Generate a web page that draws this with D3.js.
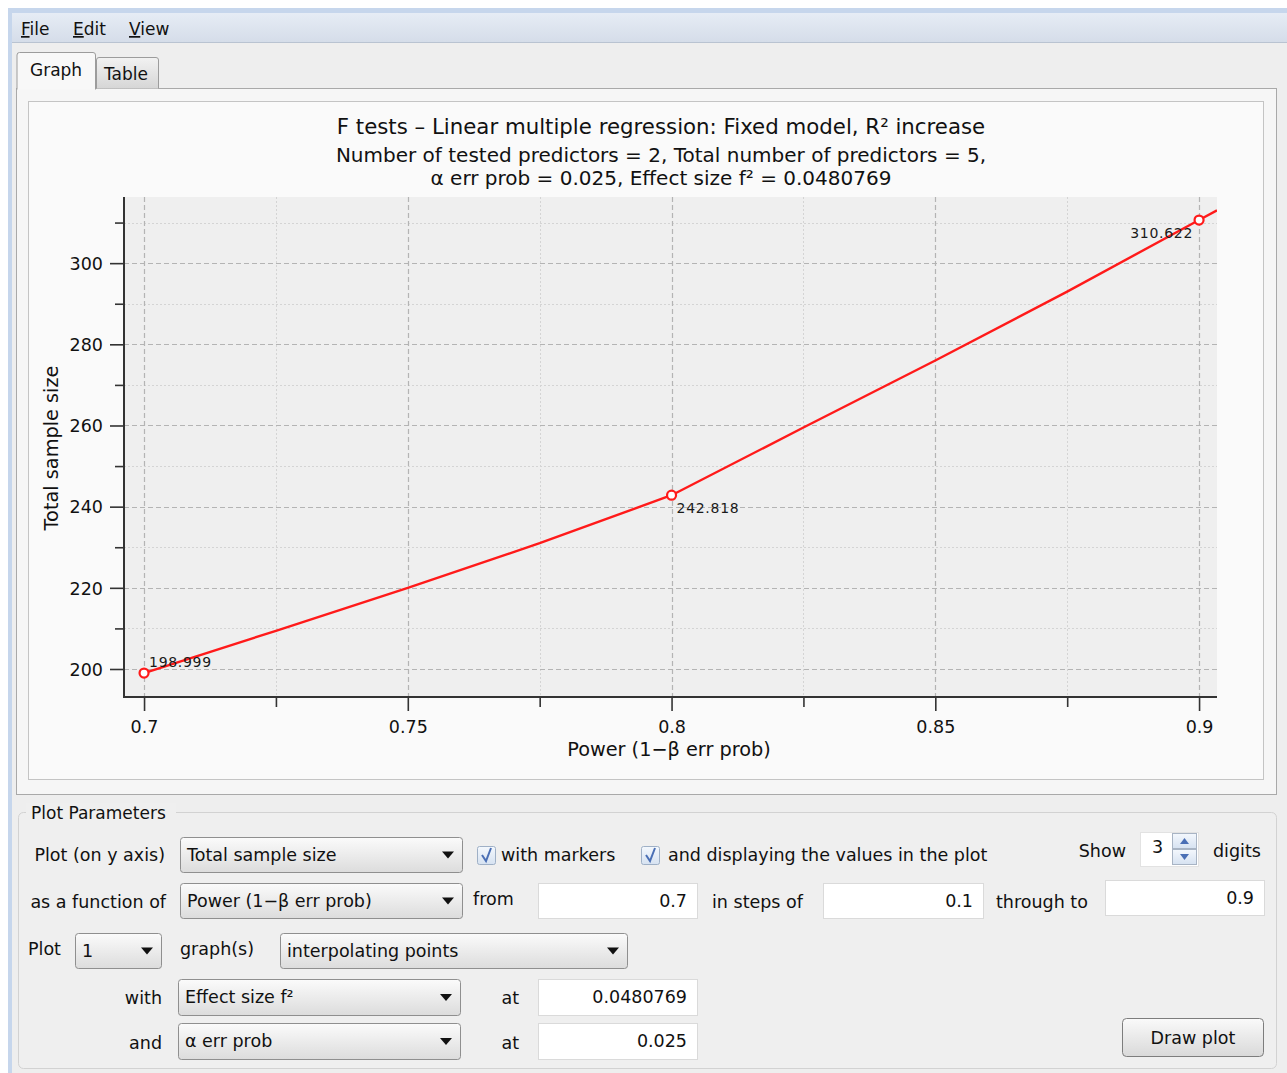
<!DOCTYPE html>
<html>
<head>
<meta charset="utf-8">
<script src="https://cdn.jsdelivr.net/npm/d3@7"></script>
<style>
  html, body { margin: 0; padding: 0; background: #ffffff; }
  svg { display: block; font-family: "DejaVu Sans", sans-serif; }
</style>
</head>
<body>
<div id="app"></div>
<script>
const titleLines = [
  'F tests \u2013 Linear multiple regression: Fixed model, R\u00b2 increase',
  'Number of tested predictors = 2, Total number of predictors = 5,',
  '\u03b1 err prob = 0.025, Effect size f\u00b2 = 0.0480769'
];
const xLabel = 'Power (1\u2212\u03b2 err prob)';
const yLabel = 'Total sample size';

const xTicks      = [0.7, 0.75, 0.8, 0.85, 0.9];
const xMinorTicks = [0.725, 0.775, 0.825, 0.875];
const yTicks      = [200, 220, 240, 260, 280, 300];
const yMinorTicks = [210, 230, 250, 270, 290, 310];

// interpolated curve
const curvePower = [0.7, 0.725, 0.75, 0.775, 0.8, 0.825, 0.85, 0.875, 0.9, 0.9034];
const curveN     = [198.999, 209.4, 220.0, 231.0, 242.818, 259.5, 276.0, 293.0, 310.622, 313.0];

// computed points (markers + value labels)
const markerPower = [0.7, 0.8, 0.9];
const markerN     = [198.999, 242.818, 310.622];

const W = 1287, H = 1073;

const svg = d3.select('#app').append('svg')
  .attr('width', W).attr('height', H)
  .attr('viewBox', `0 0 ${W} ${H}`);

const defs = svg.append('defs');
function vGrad(id, top, bottom) {
  const g = defs.append('linearGradient').attr('id', id)
    .attr('x1', 0).attr('y1', 0).attr('x2', 0).attr('y2', 1);
  g.append('stop').attr('offset', '0%').attr('stop-color', top);
  g.append('stop').attr('offset', '100%').attr('stop-color', bottom);
}
vGrad('menuGrad', '#e6ecf5', '#d5dde9');
vGrad('comboGrad', '#fbfbfb', '#dcdcdc');
vGrad('tabGrad', '#f2f2f2', '#d6d6d6');
vGrad('checkGrad', '#f4f8fd', '#d6e2f1');
vGrad('btnGrad', '#fafafa', '#d9d9d9');

// ── Window frame & menu bar ──
svg.append('rect').attr('x', 8).attr('y', 8).attr('width', W - 8).attr('height', H - 8)
  .attr('fill', '#eeeeee');
svg.append('rect').attr('x', 8).attr('y', 8).attr('width', W - 8).attr('height', 5)
  .attr('fill', '#c6d6ec');
svg.append('rect').attr('x', 8).attr('y', 8).attr('width', 4).attr('height', H - 8)
  .attr('fill', '#c6d6ec');
svg.append('rect').attr('x', 12).attr('y', 13).attr('width', W - 12).attr('height', 29)
  .attr('fill', 'url(#menuGrad)');
svg.append('line').attr('x1', 12).attr('x2', W).attr('y1', 42.5).attr('y2', 42.5)
  .attr('stroke', '#b9c3d1');

[['File', 21], ['Edit', 73], ['View', 129]].forEach(([t, x]) => {
  const txt = svg.append('text').attr('x', x).attr('y', 35)
    .attr('font-size', 17).attr('fill', '#111');
  txt.append('tspan').attr('text-decoration', 'underline').text(t[0]);
  txt.append('tspan').text(t.slice(1));
});

// ── Tabs ──
svg.append('rect').attr('x', 16.5).attr('y', 88.5).attr('width', 1260).attr('height', 706)
  .attr('fill', '#f6f6f6').attr('stroke', '#a9a9a9');
svg.append('path')
  .attr('d', 'M96.5,88.5 V60 Q96.5,57.5 99,57.5 H156 Q158.5,57.5 158.5,60 V88.5')
  .attr('fill', 'url(#tabGrad)').attr('stroke', '#9c9c9c');
svg.append('text').attr('x', 104).attr('y', 80).attr('font-size', 17).attr('fill', '#111').text('Table');
svg.append('path')
  .attr('d', 'M17,89.5 V55 Q17,52.5 19.5,52.5 H93 Q95.5,52.5 95.5,55 V89.5')
  .attr('fill', '#f8f8f8').attr('stroke', '#9c9c9c');
svg.append('text').attr('x', 30).attr('y', 76).attr('font-size', 17).attr('fill', '#111').text('Graph');

// chart panel
svg.append('rect').attr('x', 28.5).attr('y', 101.5).attr('width', 1235).attr('height', 678)
  .attr('fill', '#fafafa').attr('stroke', '#c4c4c4');

// ============ Chart ============
const plot = { left: 124, right: 1217, top: 197, bottom: 697 };

const x = d3.scaleLinear().domain([0.6962, 0.9034]).range([plot.left, plot.right]);
const y = d3.scaleLinear().domain([193.1, 316.3]).range([plot.bottom, plot.top]);

svg.append('rect')
  .attr('x', plot.left).attr('y', plot.top)
  .attr('width', plot.right - plot.left).attr('height', plot.bottom - plot.top)
  .attr('fill', '#efefef');

// gridlines
const grid = svg.append('g');
grid.selectAll('line.ymin').data(yMinorTicks).enter().append('line')
  .attr('x1', plot.left).attr('x2', plot.right)
  .attr('y1', d => Math.round(y(d)) + 0.5).attr('y2', d => Math.round(y(d)) + 0.5)
  .attr('stroke', '#d4d4d4').attr('stroke-dasharray', '2,2');
grid.selectAll('line.xmin').data(xMinorTicks).enter().append('line')
  .attr('y1', plot.top).attr('y2', plot.bottom)
  .attr('x1', d => Math.round(x(d)) + 0.5).attr('x2', d => Math.round(x(d)) + 0.5)
  .attr('stroke', '#d4d4d4').attr('stroke-dasharray', '2,2');
grid.selectAll('line.ymaj').data(yTicks).enter().append('line')
  .attr('x1', plot.left).attr('x2', plot.right)
  .attr('y1', d => Math.round(y(d)) + 0.5).attr('y2', d => Math.round(y(d)) + 0.5)
  .attr('stroke', '#b4b4b4').attr('stroke-width', 1.2).attr('stroke-dasharray', '5,3');
grid.selectAll('line.xmaj').data(xTicks).enter().append('line')
  .attr('y1', plot.top).attr('y2', plot.bottom)
  .attr('x1', d => Math.round(x(d)) + 0.5).attr('x2', d => Math.round(x(d)) + 0.5)
  .attr('stroke', '#b4b4b4').attr('stroke-width', 1.2).attr('stroke-dasharray', '5,3');

// axes
const fmtX = d => d3.format('')(+d.toFixed(2));
const xAxis = svg.append('g').attr('transform', `translate(0,${plot.bottom})`)
  .call(d3.axisBottom(x).tickValues(xTicks).tickSize(14).tickPadding(6).tickFormat(fmtX));
const xAxisMinor = svg.append('g').attr('transform', `translate(0,${plot.bottom})`)
  .call(d3.axisBottom(x).tickValues(xMinorTicks).tickSize(10).tickFormat(''));
const yAxis = svg.append('g').attr('transform', `translate(${plot.left},0)`)
  .call(d3.axisLeft(y).tickValues(yTicks).tickSize(14).tickPadding(7));
const yAxisMinor = svg.append('g').attr('transform', `translate(${plot.left},0)`)
  .call(d3.axisLeft(y).tickValues(yMinorTicks).tickSize(9).tickFormat(''));

[xAxis, xAxisMinor, yAxis, yAxisMinor].forEach(g => {
  g.select('.domain').remove();
  g.selectAll('.tick line').attr('stroke', '#333').attr('stroke-width', 1.6);
  g.selectAll('text').attr('font-size', 17.5).attr('fill', '#111')
    .attr('font-family', '"DejaVu Sans", sans-serif');
});
xAxis.selectAll('text').attr('dy', '0.9em');
yAxis.selectAll('text').attr('dy', '0.36em');

svg.append('line').attr('x1', plot.left).attr('x2', plot.left)
  .attr('y1', plot.top).attr('y2', plot.bottom + 1)
  .attr('stroke', '#333').attr('stroke-width', 2);
svg.append('line').attr('x1', plot.left - 1).attr('x2', plot.right)
  .attr('y1', plot.bottom).attr('y2', plot.bottom)
  .attr('stroke', '#333').attr('stroke-width', 2);

// curve
defs.append('clipPath').attr('id', 'plotClip').append('rect')
  .attr('x', plot.left).attr('y', plot.top)
  .attr('width', plot.right - plot.left).attr('height', plot.bottom - plot.top);

const curve = curvePower.map((p, i) => ({ p, n: curveN[i] }));
svg.append('path')
  .datum(curve)
  .attr('clip-path', 'url(#plotClip)')
  .attr('fill', 'none').attr('stroke', '#ff1a1a').attr('stroke-width', 2.4)
  .attr('stroke-linejoin', 'round')
  .attr('d', d3.line().x(d => x(d.p)).y(d => y(d.n)));

// markers & labels
const markers = markerPower.map((p, i) => ({ p, n: markerN[i] }));
const labelOffsets = [
  { dx: 5, dy: -6, anchor: 'start' },
  { dx: 5, dy: 18, anchor: 'start' },
  { dx: -6, dy: 18, anchor: 'end' }
];
svg.selectAll('text.val').data(markers).enter().append('text')
  .attr('x', (d, i) => x(d.p) + labelOffsets[i].dx)
  .attr('y', (d, i) => y(d.n) + labelOffsets[i].dy)
  .attr('text-anchor', (d, i) => labelOffsets[i].anchor)
  .attr('font-size', 14).attr('letter-spacing', 0.7).attr('fill', '#1a1a1a')
  .text(d => d3.format('.3f')(d.n));
svg.selectAll('circle.mk').data(markers).enter().append('circle')
  .attr('cx', d => x(d.p)).attr('cy', d => y(d.n)).attr('r', 4.5)
  .attr('fill', '#ffffff').attr('stroke', '#ff1a1a').attr('stroke-width', 2.2);

// titles
const titleY = [134, 162, 185];
const titleSize = [21.3, 20, 20];
titleLines.forEach((t, i) => {
  svg.append('text').attr('x', 661).attr('y', titleY[i])
    .attr('text-anchor', 'middle').attr('font-size', titleSize[i]).attr('fill', '#111')
    .text(t);
});
svg.append('text').attr('x', 669).attr('y', 756)
  .attr('text-anchor', 'middle').attr('font-size', 19.3).attr('fill', '#111').text(xLabel);
svg.append('text').attr('transform', 'translate(58,448) rotate(-90)')
  .attr('text-anchor', 'middle').attr('font-size', 19.3).attr('fill', '#111').text(yLabel);

// ============ Plot Parameters panel ============
const ui = svg.append('g').attr('font-size', 17.5).attr('fill', '#111');

ui.append('rect').attr('x', 18.5).attr('y', 812.5).attr('width', 1258).attr('height', 256)
  .attr('rx', 5).attr('fill', '#efefef').attr('stroke', '#d2d2d2');
ui.append('rect').attr('x', 26).attr('y', 803).attr('width', 150).attr('height', 20).attr('fill', '#efefef');
ui.append('text').attr('x', 31).attr('y', 819).attr('font-size', 17).text('Plot Parameters');

function label(t, xx, yy, anchor) {
  ui.append('text').attr('x', xx).attr('y', yy).attr('text-anchor', anchor || 'start').text(t);
}
function combo(x0, y0, w, h, t) {
  ui.append('rect').attr('x', x0 + 0.5).attr('y', y0 + 0.5).attr('width', w).attr('height', h)
    .attr('rx', 3).attr('fill', 'url(#comboGrad)').attr('stroke', '#8f8f8f');
  ui.append('text').attr('x', x0 + 7).attr('y', y0 + h / 2 + 6).text(t);
  const ax = x0 + w - 14, ay = y0 + h / 2;
  ui.append('path').attr('d', `M${ax - 6},${ay - 3} L${ax + 6},${ay - 3} L${ax},${ay + 4} Z`)
    .attr('fill', '#111');
}
function field(x0, y0, w, h, t) {
  ui.append('rect').attr('x', x0 + 0.5).attr('y', y0 + 0.5).attr('width', w).attr('height', h)
    .attr('fill', '#ffffff').attr('stroke', '#dadada');
  ui.append('text').attr('x', x0 + w - 10).attr('y', y0 + h / 2 + 6)
    .attr('text-anchor', 'end').text(t);
}
function check(x0, y0) {
  ui.append('rect').attr('x', x0 + 0.5).attr('y', y0 + 0.5).attr('width', 18).attr('height', 18)
    .attr('rx', 2).attr('fill', 'url(#checkGrad)').attr('stroke', '#9fb0c6');
  ui.append('path').attr('d', `M${x0 + 5},${y0 + 9} L${x0 + 9},${y0 + 15} L${x0 + 14},${y0 + 2}`)
    .attr('fill', 'none').attr('stroke', '#4a6fb5').attr('stroke-width', 2);
}

// row 1
label('Plot (on y axis)', 165, 861, 'end');
combo(180, 837, 282, 35, 'Total sample size');
check(477, 846);
label('with markers', 501, 861);
check(641, 846);
label('and displaying the values in the plot', 668, 861);
label('Show', 1126, 857, 'end');
ui.append('rect').attr('x', 1140.5).attr('y', 832.5).attr('width', 58).attr('height', 34)
  .attr('fill', '#ffffff').attr('stroke', '#e2e2e2');
label('3', 1152, 853);
ui.append('rect').attr('x', 1172.5).attr('y', 833.5).attr('width', 24).attr('height', 15)
  .attr('fill', 'url(#checkGrad)').attr('stroke', '#a8b4c4');
ui.append('rect').attr('x', 1172.5).attr('y', 849.5).attr('width', 24).attr('height', 15)
  .attr('fill', 'url(#checkGrad)').attr('stroke', '#a8b4c4');
ui.append('path').attr('d', 'M1180,844 L1189,844 L1184.5,838 Z').attr('fill', '#4a6fb5');
ui.append('path').attr('d', 'M1180,854 L1189,854 L1184.5,860 Z').attr('fill', '#4a6fb5');
label('digits', 1213, 857);

// row 2
label('as a function of', 166, 908, 'end');
combo(180, 883, 282, 35, 'Power (1\u2212\u03b2 err prob)');
label('from', 473, 905);
field(538, 883, 159, 35, '0.7');
label('in steps of', 712, 908);
field(823, 883, 160, 35, '0.1');
label('through to', 996, 908);
field(1105, 880, 159, 35, '0.9');

// row 3
label('Plot', 28, 955);
combo(75, 933, 86, 35, '1');
label('graph(s)', 180, 955);
combo(280, 933, 347, 35, 'interpolating points');

// row 4
label('with', 162, 1004, 'end');
combo(178, 979, 282, 36, 'Effect size f\u00b2');
label('at', 519, 1004, 'end');
field(538, 979, 159, 36, '0.0480769');

// row 5
label('and', 162, 1049, 'end');
combo(178, 1023, 282, 36, '\u03b1 err prob');
label('at', 519, 1049, 'end');
field(538, 1023, 159, 36, '0.025');

// button
ui.append('rect').attr('x', 1122.5).attr('y', 1018.5).attr('width', 141).attr('height', 38)
  .attr('rx', 4).attr('fill', 'url(#btnGrad)').attr('stroke', '#7d7d7d');
label('Draw plot', 1193, 1044, 'middle');
</script>
</body>
</html>
